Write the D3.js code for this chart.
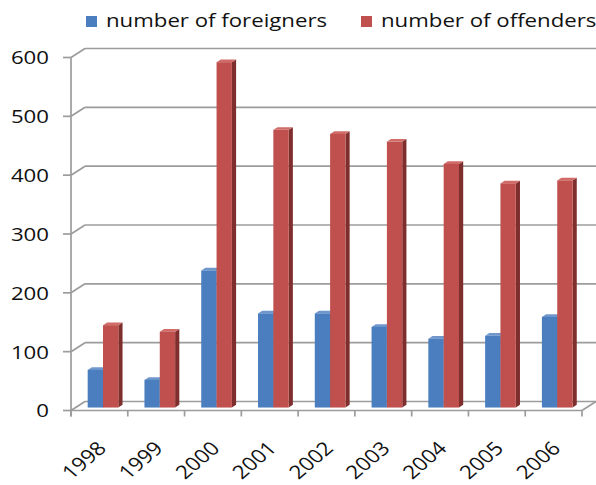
<!DOCTYPE html>
<html>
<head>
<meta charset="utf-8">
<script src="https://cdn.jsdelivr.net/npm/d3@7"></script>
<style>
  body { margin: 0; background: #fff; }
  svg { display: block; }
  text { font-family: "Open Sans", sans-serif; fill: #111; font-weight: 500; }
</style>
</head>
<body>
<svg width="596" height="485"></svg>
<script>
var years = ["1998", "1999", "2000", "2001", "2002", "2003", "2004", "2005", "2006"];
var foreigners = [64, 47, 233, 160, 160, 137, 117, 122, 154];
var offenders = [140, 129, 587, 472, 465, 452, 414, 381, 386];
var seriesNames = ["number of foreigners", "number of offenders"];
var yTicks = [0, 100, 200, 300, 400, 500, 600];

var svg = d3.select("svg");

// front plane of the 3d box
var plotL = 71, plotR = 582, plotT = 57.5, plotB = 410.5;
// depth vector (front -> back)
var ddx = 14, ddy = -9;
var stretch = 1.17; // the picture is a bit wide, text too

var x = d3.scaleBand().domain(years).range([plotL, plotR]);
var y = d3.scaleLinear().domain([0, 600]).range([plotB, plotT]);

var colors = [
  { front: "#4a7ebf", side: "#335a8a", top: "#6f97cc" },
  { front: "#c0504d", side: "#7e2f2d", top: "#d06b68" }
];

var grid = svg.append("g")
  .attr("stroke", "#9c9c9c")
  .attr("stroke-width", 1.7)
  .attr("fill", "none");

// back wall gridlines
grid.selectAll("line.back")
  .data(yTicks)
  .enter()
  .append("line")
  .attr("x1", plotL + ddx)
  .attr("x2", 600)
  .attr("y1", d => y(d) + ddy)
  .attr("y2", d => y(d) + ddy);

// left wall diagonals
grid.selectAll("line.side")
  .data(yTicks)
  .enter()
  .append("line")
  .attr("x1", plotL)
  .attr("x2", plotL + ddx)
  .attr("y1", d => y(d))
  .attr("y2", d => y(d) + ddy);

// floor edges
grid.append("line")
  .attr("x1", plotL).attr("x2", plotR)
  .attr("y1", plotB).attr("y2", plotB);
grid.append("line")
  .attr("x1", plotR).attr("x2", plotR + ddx)
  .attr("y1", plotB).attr("y2", plotB + ddy);

// y axis line + ticks
grid.append("line")
  .attr("x1", plotL).attr("x2", plotL)
  .attr("y1", plotT).attr("y2", plotB + 6);
grid.selectAll("line.ytick")
  .data(yTicks)
  .enter()
  .append("line")
  .attr("x1", plotL - 8).attr("x2", plotL)
  .attr("y1", d => y(d)).attr("y2", d => y(d));

// category ticks
var catEdges = years.map(d => x(d)).concat([plotR]);
grid.selectAll("line.xtick")
  .data(catEdges)
  .enter()
  .append("line")
  .attr("x1", d => d).attr("x2", d => d)
  .attr("y1", plotB).attr("y2", plotB + 6);

// bars
var bw = x.bandwidth() * 0.27;
var z0 = 0.33, dz = 0.3;
var series = [foreigners, offenders];

function poly(pts) {
  return "M" + pts.map(p => p.join(",")).join("L") + "Z";
}

var bars = svg.append("g");
years.forEach(function(yr, i) {
  series.forEach(function(vals, s) {
    var v = vals[i];
    var x0 = x(yr) + (x.bandwidth() - 2 * bw) / 2 - 1 + s * bw + z0 * ddx;
    var x1 = x0 + bw;
    var yb = y(0) + z0 * ddy;
    var yt = y(v) + z0 * ddy;
    var ox = dz * ddx, oy = dz * ddy;
    var c = colors[s];
    bars.append("path")
      .attr("d", poly([[x1, yt], [x1 + ox, yt + oy], [x1 + ox, yb + oy], [x1, yb]]))
      .attr("fill", c.side);
    bars.append("path")
      .attr("d", poly([[x0, yt], [x0 + ox, yt + oy], [x1 + ox, yt + oy], [x1, yt]]))
      .attr("fill", c.top);
    bars.append("rect")
      .attr("x", x0).attr("y", yt)
      .attr("width", bw).attr("height", yb - yt)
      .attr("fill", c.front);
  });
});

// y labels
svg.append("g")
  .selectAll("text")
  .data(yTicks)
  .enter()
  .append("text")
  .attr("transform", d => `translate(49,${y(d)}) scale(${stretch},1)`)
  .attr("dy", "0.36em")
  .attr("text-anchor", "end")
  .attr("font-size", 19)
  .text(d => d);

// x labels (rotated, then widened like the rest of the picture)
svg.append("g")
  .selectAll("text")
  .data(years)
  .enter()
  .append("text")
  .attr("transform", d => `translate(${x(d) + x.bandwidth() / 2 + 8},${plotB + 39}) scale(${stretch},1) rotate(-45)`)
  .attr("text-anchor", "end")
  .attr("font-size", 19)
  .text(d => d);

// legend
var legendX = [86, 361];
var legend = svg.append("g");
seriesNames.forEach(function(name, s) {
  legend.append("rect")
    .attr("x", legendX[s]).attr("y", 16)
    .attr("width", 11).attr("height", 11)
    .attr("fill", colors[s].front);
  legend.append("text")
    .attr("transform", `translate(${legendX[s] + 20},27) scale(${stretch},1)`)
    .attr("font-size", 19)
    .text(name);
});
</script>
</body>
</html>
